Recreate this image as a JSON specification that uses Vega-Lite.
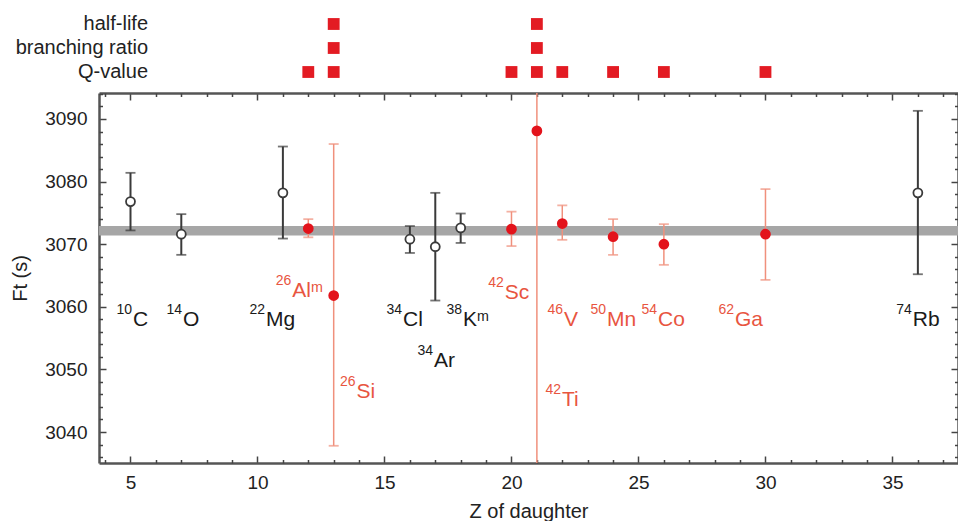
{
  "$schema": "https://vega.github.io/schema/vega-lite/v6.json",
  "padding": {"left": 10, "top": 12, "right": 0, "bottom": 0},
  "config": {"font": "Liberation Sans", "view": {"stroke": null}, "axis": {"grid": false}},
  "bounds": "flush",
  "spacing": 9,
  "datasets": {
    "inputs": [
      {"input": "half-life", "Z": 13}, {"input": "half-life", "Z": 21},
      {"input": "branching ratio", "Z": 13}, {"input": "branching ratio", "Z": 21},
      {"input": "Q-value", "Z": 12}, {"input": "Q-value", "Z": 13}, {"input": "Q-value", "Z": 20},
      {"input": "Q-value", "Z": 21}, {"input": "Q-value", "Z": 22}, {"input": "Q-value", "Z": 24},
      {"input": "Q-value", "Z": 26}, {"input": "Q-value", "Z": 30}
    ],
    "inputLabels": [{"input": "half-life"}, {"input": "branching ratio"}, {"input": "Q-value"}],
    "band": [{"lo": 3071.4, "hi": 3072.9}],
    "iso": [
      {"Z": 5, "Ft": 3076.8, "lo": 3072.2, "hi": 3081.4, "grp": "black", "mass": "10", "el": "C", "lz": 5.06, "lf": 3056.9},
      {"Z": 7, "Ft": 3071.6, "lo": 3068.3, "hi": 3074.8, "grp": "black", "mass": "14", "el": "O", "lz": 7.03, "lf": 3056.9},
      {"Z": 11, "Ft": 3078.2, "lo": 3070.9, "hi": 3085.6, "grp": "black", "mass": "22", "el": "Mg", "lz": 10.3, "lf": 3056.9},
      {"Z": 12, "Ft": 3072.5, "lo": 3071.1, "hi": 3074.0, "grp": "red", "mass": "26", "el": "Alᵐ", "lz": 11.33, "lf": 3061.6},
      {"Z": 13, "Ft": 3061.8, "lo": 3037.8, "hi": 3086.0, "grp": "red", "mass": "26", "el": "Si", "lz": 13.86, "lf": 3045.5},
      {"Z": 16, "Ft": 3070.8, "lo": 3068.6, "hi": 3072.9, "grp": "black", "mass": "34", "el": "Cl", "lz": 15.69, "lf": 3056.9},
      {"Z": 17, "Ft": 3069.6, "lo": 3061.0, "hi": 3078.2, "grp": "black", "mass": "34", "el": "Ar", "lz": 16.91, "lf": 3050.4},
      {"Z": 18, "Ft": 3072.6, "lo": 3070.2, "hi": 3074.9, "grp": "black", "mass": "38", "el": "Kᵐ", "lz": 18.05, "lf": 3056.9},
      {"Z": 20, "Ft": 3072.4, "lo": 3069.7, "hi": 3075.2, "grp": "red", "mass": "42", "el": "Sc", "lz": 19.7, "lf": 3061.2},
      {"Z": 21, "Ft": 3088.1, "lo": 3000, "hi": 3180, "grp": "red", "mass": "42", "el": "Ti", "lz": 21.95, "lf": 3044.2},
      {"Z": 22, "Ft": 3073.3, "lo": 3070.7, "hi": 3076.2, "grp": "red", "mass": "46", "el": "V", "lz": 22.03, "lf": 3056.9},
      {"Z": 24, "Ft": 3071.2, "lo": 3068.3, "hi": 3074.0, "grp": "red", "mass": "50", "el": "Mn", "lz": 23.72, "lf": 3056.9},
      {"Z": 26, "Ft": 3070.0, "lo": 3066.7, "hi": 3073.2, "grp": "red", "mass": "54", "el": "Co", "lz": 25.73, "lf": 3056.9},
      {"Z": 30, "Ft": 3071.6, "lo": 3064.3, "hi": 3078.8, "grp": "red", "mass": "62", "el": "Ga", "lz": 28.76, "lf": 3056.9},
      {"Z": 36, "Ft": 3078.2, "lo": 3065.2, "hi": 3091.3, "grp": "black", "mass": "74", "el": "Rb", "lz": 35.76, "lf": 3056.9}
    ]
  },
  "vconcat": [
    {
      "width": 859,
      "height": 72,
      "layer": [
        {
          "data": {"name": "inputs"},
          "mark": {"type": "square", "size": 140, "color": "#e31b23", "opacity": 1},
          "encoding": {
            "x": {"field": "Z", "type": "quantitative", "scale": {"domain": [3.76, 37.58], "nice": false, "zero": false}, "axis": null},
            "y": {"field": "input", "type": "nominal", "scale": {"type": "band", "domain": ["half-life", "branching ratio", "Q-value"], "paddingInner": 0, "paddingOuter": 0}, "axis": null}
          }
        },
        {
          "data": {"name": "inputLabels"},
          "mark": {"type": "text", "align": "right", "baseline": "middle", "fontSize": 20, "color": "#222222"},
          "encoding": {
            "x": {"datum": 5.69, "type": "quantitative"},
            "y": {"field": "input", "type": "nominal"},
            "text": {"field": "input"}
          }
        }
      ]
    },
    {
      "width": 859,
      "height": 370,
      "data": {"name": "iso"},
      "resolve": {"axis": {"x": "independent", "y": "independent"}, "scale": {"color": "independent"}},
      "layer": [
        {
          "data": {"name": "band"},
          "mark": {"type": "rect", "color": "#a6a6a6"},
          "encoding": {
            "x": {"value": 0},
            "x2": {"value": "width"},
            "y": {"field": "lo", "type": "quantitative", "scale": {"domain": [3035.05, 3094.15], "nice": false, "zero": false}, "axis": null},
            "y2": {"field": "hi"}
          }
        },
        {
          "mark": {"type": "rule", "clip": true},
          "encoding": {
            "x": {"field": "Z", "type": "quantitative", "scale": {"domain": [3.76, 37.58], "nice": false, "zero": false},
              "axis": {"orient": "bottom", "values": [5, 10, 15, 20, 25, 30, 35], "tickSize": -7, "tickWidth": 1.5, "tickColor": "#444444", "domainColor": "#555555", "domainWidth": 2.5, "labelFontSize": 19, "labelColor": "#222222", "labelPadding": 17, "labelFlush": false, "labelOverlap": false, "title": "Z of daughter", "titleFontSize": 20, "titleFontWeight": "normal", "titleColor": "#222222", "titlePadding": 9}},
            "y": {"field": "lo", "type": "quantitative",
              "axis": {"orient": "left", "values": [3040, 3050, 3060, 3070, 3080, 3090], "format": "d", "tickSize": -7, "tickWidth": 1.5, "tickColor": "#444444", "domainColor": "#555555", "domainWidth": 2.5, "labelFontSize": 19, "labelColor": "#222222", "labelPadding": 19, "labelFlush": false, "labelOverlap": false, "title": "Ft (s)", "titleFontSize": 20, "titleFontWeight": "normal", "titleColor": "#222222", "titlePadding": 14}},
            "y2": {"field": "hi"},
            "color": {"field": "grp", "type": "nominal", "scale": {"domain": ["black", "red"], "range": ["#3a3a3a", "#f0907c"]}, "legend": null},
            "strokeWidth": {"field": "grp", "type": "nominal", "scale": {"domain": ["black", "red"], "range": [2, 1.5]}, "legend": null}
          }
        },
        {
          "mark": {"type": "tick", "orient": "horizontal", "size": 10, "thickness": 1.8, "clip": true},
          "encoding": {
            "x": {"field": "Z", "type": "quantitative",
              "axis": {"orient": "bottom", "values": [4, 6, 7, 8, 9, 11, 12, 13, 14, 16, 17, 18, 19, 21, 22, 23, 24, 26, 27, 28, 29, 31, 32, 33, 34, 36, 37], "tickSize": -3.5, "tickWidth": 1.5, "tickColor": "#444444", "labels": false, "domain": false, "title": null}},
            "y": {"field": "lo", "type": "quantitative",
              "axis": {"orient": "left", "values": [3036, 3038, 3042, 3044, 3046, 3048, 3052, 3054, 3056, 3058, 3062, 3064, 3066, 3068, 3072, 3074, 3076, 3078, 3082, 3084, 3086, 3088, 3092, 3094], "tickSize": -3.5, "tickWidth": 1.5, "tickColor": "#444444", "labels": false, "domain": false, "title": null}},
            "color": {"field": "grp", "type": "nominal", "scale": {"domain": ["black", "red"], "range": ["#3a3a3a", "#f0907c"]}, "legend": null}
          }
        },
        {
          "mark": {"type": "tick", "orient": "horizontal", "size": 10, "thickness": 1.8, "clip": true},
          "encoding": {
            "x": {"field": "Z", "type": "quantitative",
              "axis": {"orient": "top", "values": [5, 10, 15, 20, 25, 30, 35], "tickSize": -7, "tickWidth": 1.5, "tickColor": "#444444", "domainColor": "#555555", "domainWidth": 2.5, "labels": false, "title": null}},
            "y": {"field": "hi", "type": "quantitative",
              "axis": {"orient": "right", "values": [3040, 3050, 3060, 3070, 3080, 3090], "tickSize": -7, "tickWidth": 1.5, "tickColor": "#444444", "domainColor": "#555555", "domainWidth": 2.5, "labels": false, "title": null}},
            "color": {"field": "grp", "type": "nominal", "scale": {"domain": ["black", "red"], "range": ["#3a3a3a", "#f0907c"]}, "legend": null}
          }
        },
        {
          "mark": {"type": "point", "shape": "circle", "size": 80, "strokeWidth": 1.8, "opacity": 1, "filled": false},
          "encoding": {
            "x": {"field": "Z", "type": "quantitative",
              "axis": {"orient": "top", "values": [4, 6, 7, 8, 9, 11, 12, 13, 14, 16, 17, 18, 19, 21, 22, 23, 24, 26, 27, 28, 29, 31, 32, 33, 34, 36, 37], "tickSize": -3.5, "tickWidth": 1.5, "tickColor": "#444444", "labels": false, "domain": false, "title": null}},
            "y": {"field": "Ft", "type": "quantitative",
              "axis": {"orient": "right", "values": [3036, 3038, 3042, 3044, 3046, 3048, 3052, 3054, 3056, 3058, 3062, 3064, 3066, 3068, 3072, 3074, 3076, 3078, 3082, 3084, 3086, 3088, 3092, 3094], "tickSize": -3.5, "tickWidth": 1.5, "tickColor": "#444444", "labels": false, "domain": false, "title": null}},
            "fill": {"field": "grp", "type": "nominal", "scale": {"domain": ["black", "red"], "range": ["#ffffff", "#e3131b"]}, "legend": null},
            "stroke": {"field": "grp", "type": "nominal", "scale": {"domain": ["black", "red"], "range": ["#3a3a3a", "#e3131b"]}, "legend": null}
          }
        },
        {
          "mark": {"type": "text", "align": "right", "baseline": "alphabetic", "fontSize": 14, "dy": -12},
          "encoding": {
            "x": {"field": "lz", "type": "quantitative", "axis": null},
            "y": {"field": "lf", "type": "quantitative", "axis": null},
            "text": {"field": "mass"},
            "color": {"field": "grp", "type": "nominal", "scale": {"domain": ["black", "red"], "range": ["#1a1a1a", "#e8553f"]}, "legend": null}
          }
        },
        {
          "mark": {"type": "text", "align": "left", "baseline": "alphabetic", "fontSize": 21, "dx": 1},
          "encoding": {
            "x": {"field": "lz", "type": "quantitative", "axis": null},
            "y": {"field": "lf", "type": "quantitative", "axis": null},
            "text": {"field": "el"},
            "color": {"field": "grp", "type": "nominal", "scale": {"domain": ["black", "red"], "range": ["#1a1a1a", "#e8553f"]}, "legend": null}
          }
        }
      ]
    }
  ]
}
